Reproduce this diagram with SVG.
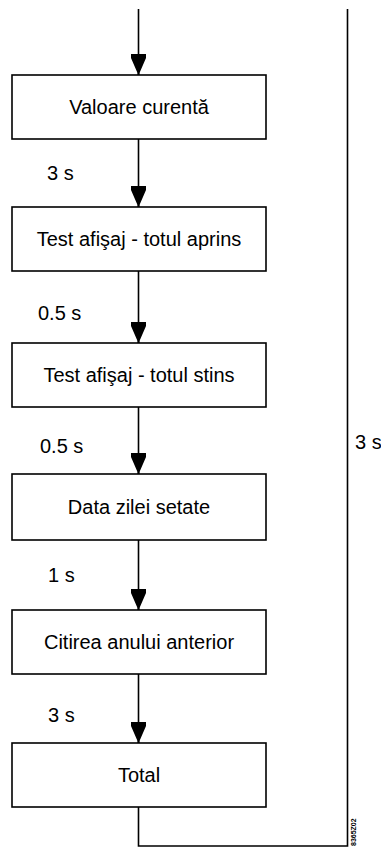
<svg xmlns="http://www.w3.org/2000/svg" width="381" height="848" viewBox="0 0 381 848">
<style>
.box{fill:#fff;stroke:#000;stroke-width:1.6}
.lbl{font-family:"Liberation Sans",Arial,sans-serif;font-size:20px;fill:#000}
.ctr{text-anchor:middle}
.ln{fill:none;stroke:#000;stroke-width:1.6}
</style>
<defs>
<marker id="ah" markerUnits="userSpaceOnUse" viewBox="0 0 21 16" markerWidth="21" markerHeight="16" refX="21" refY="8" orient="auto">
<polygon points="0,0.5 4,0.5 19,7 21,7 21,9 19,9 4,15.5 0,15.5" fill="#000"/>
</marker>
</defs>
<rect width="381" height="848" fill="#fff"/>
<g id="connectors">
<line class="ln" x1="138.5" y1="9" x2="138.5" y2="75" marker-end="url(#ah)"/>
<line class="ln" x1="138.5" y1="139" x2="138.5" y2="207" marker-end="url(#ah)"/>
<line class="ln" x1="138.5" y1="271" x2="138.5" y2="343" marker-end="url(#ah)"/>
<line class="ln" x1="138.5" y1="407" x2="138.5" y2="474" marker-end="url(#ah)"/>
<line class="ln" x1="138.5" y1="540" x2="138.5" y2="610" marker-end="url(#ah)"/>
<line class="ln" x1="138.5" y1="674" x2="138.5" y2="743" marker-end="url(#ah)"/>
<polyline class="ln" points="138.5,807 138.5,846 347.5,846 347.5,9"/>
<text class="lbl" x="47" y="180">3 s</text>
<text class="lbl" x="38" y="320">0.5 s</text>
<text class="lbl" x="40" y="453">0.5 s</text>
<text class="lbl" x="48" y="582">1 s</text>
<text class="lbl" x="48" y="722">3 s</text>
<text class="lbl" x="355" y="449">3 s</text>
</g>
<g id="n1"><rect class="box" x="12" y="75" width="254" height="64"/><text class="lbl ctr" x="139" y="114">Valoare curentă</text></g>
<g id="n2"><rect class="box" x="12" y="207" width="254" height="64"/><text class="lbl ctr" x="139" y="246">Test afişaj - totul aprins</text></g>
<g id="n3"><rect class="box" x="12" y="343" width="254" height="64"/><text class="lbl ctr" x="139" y="382">Test afişaj - totul stins</text></g>
<g id="n4"><rect class="box" x="12" y="474" width="254" height="66"/><text class="lbl ctr" x="139" y="514">Data zilei setate</text></g>
<g id="n5"><rect class="box" x="12" y="610" width="254" height="64"/><text class="lbl ctr" x="139" y="649">Citirea anului anterior</text></g>
<g id="n6"><rect class="box" x="12" y="743" width="254" height="64"/><text class="lbl ctr" x="139" y="782">Total</text></g>
<text x="356" y="846" transform="rotate(-90 356 846)" font-family="'Liberation Sans',Arial,sans-serif" font-size="7" font-weight="bold">8365Z02</text>
</svg>
